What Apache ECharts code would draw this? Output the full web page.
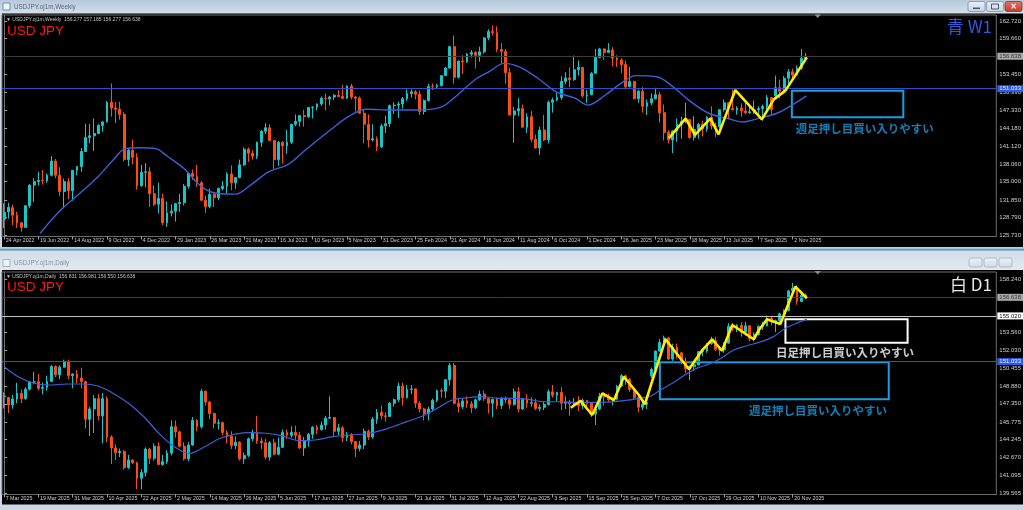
<!DOCTYPE html>
<html>
<head>
<meta charset="utf-8">
<script src="https://cdn.jsdelivr.net/npm/echarts@6.0.0/dist/echarts.min.js"></script>
<style>
html,body{margin:0;padding:0;background:#cbd7e3;overflow:hidden}
#chart{width:1024px;height:510px}
</style>
</head>
<body>
<div id="chart"></div>
<script>
// ---------- DATA ----------
// Weekly USDJPY bars [open, high, low, close], first bar = week of 24 Apr 2022
const weeklyOHLC = [
[128.5,131.25,127.0,129.7],[129.8,131.35,128.6,130.55],[130.5,131.0,127.5,129.2],[129.2,129.8,127.0,127.85],[127.9,128.0,126.36,127.1],[127.1,130.9,127.0,130.85],[130.85,134.55,130.4,134.4],[134.4,135.6,131.5,135.0],
[135.0,136.7,134.3,135.2],[135.2,137.0,134.5,135.15],[135.15,136.4,134.8,136.1],[136.1,139.4,135.9,138.55],[138.55,138.9,135.6,136.1],[136.1,137.5,132.5,133.3],[133.3,135.5,130.4,135.0],[135.0,135.6,132.0,133.4],
[133.4,137.0,131.7,136.95],[136.95,137.7,136.1,137.6],[137.6,140.8,136.7,140.2],[140.2,145.0,140.1,142.6],[142.6,144.95,141.6,142.9],[142.9,145.9,140.3,143.3],[143.3,144.9,143.2,144.7],[144.7,145.4,143.6,145.3],
[145.3,148.9,145.2,148.7],[148.7,151.95,146.2,147.7],[147.7,148.7,145.1,147.5],[147.5,148.8,145.7,146.6],[146.6,147.0,138.5,138.8],[138.8,140.8,137.7,140.4],[140.4,142.25,138.0,139.2],[139.2,139.9,133.6,134.3],
[134.3,137.9,134.1,136.6],[136.6,138.2,134.0,136.7],[136.7,137.5,130.6,132.9],[132.9,134.4,130.8,131.1],[131.1,134.8,129.5,132.1],[132.1,132.9,127.5,127.9],[127.9,131.6,127.2,129.6],[129.6,131.1,129.0,129.9],
[129.9,131.3,128.1,131.2],[131.2,132.9,129.8,131.4],[131.4,134.6,130.9,134.2],[134.2,136.5,133.8,136.4],[136.4,137.1,135.3,135.9],[135.9,137.9,134.1,134.8],[134.8,135.1,131.6,131.8],[131.8,132.6,129.6,130.7],
[130.7,133.8,130.4,132.8],[132.8,133.0,130.6,132.2],[132.2,134.0,131.8,133.8],[133.8,135.1,133.5,134.2],[134.2,136.6,133.0,136.3],[136.3,137.8,133.5,134.8],[134.8,135.8,133.75,135.7],[135.7,138.8,135.6,137.9],
[137.9,140.9,137.7,140.6],[140.6,140.9,138.4,139.9],[139.9,140.4,138.8,139.4],[139.4,141.9,138.9,141.8],[141.8,143.9,141.0,143.7],[143.7,145.1,143.2,144.3],[144.3,144.9,142.0,142.1],[142.1,142.2,137.2,138.8],
[138.8,142.0,137.7,141.8],[141.8,142.0,138.1,141.2],[141.2,143.9,139.8,141.8],[141.8,145.0,141.5,144.9],[144.9,146.6,144.6,145.4],[145.4,146.5,144.5,146.4],[146.4,147.4,144.5,146.2],[146.2,147.9,146.0,147.8],
[147.8,148.0,145.9,147.85],[147.85,148.5,147.3,148.4],[148.4,149.7,148.1,149.4],[149.4,150.2,147.3,149.3],[149.3,149.8,148.2,149.6],[149.6,150.1,149.1,149.9],[149.9,150.8,149.6,149.7],[149.7,151.7,149.2,149.4],
[149.4,151.6,149.3,151.5],[151.5,151.9,149.2,149.6],[149.6,149.8,147.1,149.4],[149.4,149.7,146.7,146.8],[146.8,147.5,141.6,144.9],[144.9,146.6,140.9,142.2],[142.2,144.9,141.9,142.4],[142.4,142.8,140.25,141.0],
[141.0,145.0,140.8,144.6],[144.6,146.4,143.4,145.0],[145.0,148.3,144.4,148.1],[148.1,148.7,146.7,148.2],[148.2,148.8,146.0,148.4],[148.4,149.6,147.6,149.3],[149.3,150.9,148.9,150.2],[150.2,150.9,149.5,150.5],
[150.5,150.8,149.2,150.1],[150.1,150.7,146.5,147.1],[147.1,149.2,146.6,149.0],[149.0,151.9,148.8,151.4],[151.4,151.97,150.8,151.35],[151.35,151.9,151.0,151.6],[151.6,153.4,151.4,153.3],[153.3,154.8,153.2,154.6],
[154.6,158.4,154.5,158.3],[158.3,160.2,151.9,153.0],[153.0,155.9,152.8,155.8],[155.8,156.8,153.6,155.7],[155.7,157.2,155.5,157.0],[157.0,157.7,156.4,157.3],[157.3,157.5,154.5,156.8],[156.8,158.3,155.7,157.4],
[157.4,159.9,157.1,159.8],[159.8,161.3,159.4,160.9],[160.9,161.95,160.2,160.7],[160.7,161.8,157.4,157.8],[157.8,158.9,155.4,157.5],[157.5,157.9,151.9,153.8],[153.8,154.6,146.4,146.5],[146.5,147.9,141.7,147.2],
[147.2,149.4,146.3,147.6],[147.6,148.3,144.3,144.4],[144.4,146.8,143.4,146.2],[146.2,147.2,141.8,142.3],[142.3,143.1,140.7,140.8],[140.8,144.5,139.6,143.9],[143.9,146.5,142.0,142.2],[142.2,149.0,141.6,148.7],
[148.7,149.5,146.9,149.1],[149.1,150.3,148.9,149.5],[149.5,153.2,149.1,152.3],[152.3,153.9,151.8,152.9],[152.9,154.7,151.3,152.6],[152.6,156.75,152.4,154.3],[154.3,155.9,153.3,154.7],[154.7,154.8,149.5,149.8],
[149.8,150.8,148.6,150.0],[150.0,153.9,149.9,153.7],[153.7,157.9,153.6,156.4],[156.4,158.1,156.3,157.9],[157.9,158.0,156.0,157.3],[157.3,158.9,157.2,157.7],[157.7,158.2,154.9,156.3],[156.3,156.8,154.8,156.0],
[156.0,156.3,153.7,155.2],[155.2,155.9,150.9,151.4],[151.4,154.8,151.3,152.3],[152.3,152.4,149.2,149.3],[149.3,150.9,148.6,150.6],[150.6,151.3,146.9,148.0],[148.0,149.2,146.5,148.6],[148.6,150.2,148.2,149.3],
[149.3,151.2,149.2,150.0],[150.0,150.5,145.2,146.9],[146.9,148.3,142.1,143.5],[143.5,143.9,141.6,142.2],[142.2,143.9,139.9,143.7],[143.7,145.9,141.9,144.9],[144.9,146.2,142.4,145.4],[145.4,148.6,145.1,145.7],
[145.7,145.8,142.4,142.6],[142.6,146.3,142.1,144.0],[144.0,145.1,142.4,144.9],[144.9,145.5,142.8,144.1],[144.1,146.3,143.6,146.1],[146.1,148.0,144.0,144.6],[144.6,145.2,142.7,144.5],[144.5,147.5,144.2,147.4],
[147.4,149.2,147.1,148.6],[148.6,148.7,145.9,147.6],[147.6,150.9,147.3,147.4],[147.4,148.0,146.55,147.7],[147.7,148.5,146.2,147.2],[147.2,148.8,146.6,146.9],[146.9,148.2,146.7,147.05],[147.05,149.0,146.7,147.4],
[147.4,148.0,146.3,147.6],[147.6,148.3,145.5,147.95],[147.95,149.95,147.2,149.5],[149.5,149.6,146.6,147.45],[149.8,153.3,149.6,151.2],[151.2,152.6,149.4,150.6],[150.6,153.2,150.2,152.85],[152.85,154.4,151.55,153.95],
[153.95,154.5,152.8,153.4],[153.4,155.05,153.3,154.6],[154.6,157.9,154.3,156.3],[156.277,157.185,156.277,156.638]
];

// Daily USDJPY bars [open, high, low, close], first bar = 7 Mar 2025 (weekdays)
const dailyOHLC = [
[147.98,148.35,146.94,148.04],[147.9,147.95,146.54,147.25],[147.25,148.12,146.93,147.77],[147.77,149.19,147.4,148.27],[148.27,148.6,147.41,147.8],[147.8,148.8,147.7,148.63],[148.63,149.35,148.5,149.25],[149.25,150.15,149.05,149.28],
[149.28,149.95,148.5,148.7],[148.7,149.2,148.17,148.78],[148.78,149.8,148.5,149.3],[149.3,150.74,149.25,150.6],[150.6,150.7,149.68,149.88],[149.88,150.7,149.5,150.55],[150.55,151.2,150.5,151.05],[151.05,151.2,149.5,149.82],
[149.82,150.0,148.7,149.95],[149.95,150.3,149.15,149.6],[149.6,150.5,148.7,149.3],[149.3,149.35,145.2,146.0],[146.0,147.1,144.55,146.9],[146.9,148.1,144.8,147.8],[147.8,148.2,145.9,146.3],[146.3,148.3,143.9,147.8],
[147.8,148.0,144.0,144.45],[144.45,144.6,142.1,143.5],[143.5,143.8,142.45,143.1],[143.1,143.45,142.7,143.2],[143.2,143.3,141.6,141.8],[141.8,142.9,141.65,142.45],[142.45,142.5,142.1,142.2],[142.2,142.3,139.9,140.85],
[140.85,141.65,139.89,141.35],[141.35,143.55,141.0,143.4],[143.4,143.5,142.1,142.6],[142.6,143.9,142.4,143.65],[143.65,144.0,142.0,142.05],[142.05,142.9,141.95,142.3],[142.3,143.3,142.1,143.05],[143.05,145.9,142.85,145.35],
[145.35,145.9,144.4,144.9],[144.9,145.0,143.55,143.65],[143.65,144.0,142.4,142.55],[142.55,144.0,142.35,143.75],[143.75,146.2,143.7,145.9],[145.9,146.0,144.95,145.35],[145.35,148.65,145.2,148.45],[148.45,148.5,147.2,147.5],
[147.5,147.6,146.0,146.5],[146.5,146.6,145.2,145.65],[145.65,146.0,145.1,145.7],[145.7,145.8,144.6,144.85],[144.85,145.05,143.9,144.5],[144.5,144.95,143.4,143.7],[143.7,144.5,143.4,144.0],[144.0,144.1,142.4,142.55],
[142.55,143.1,142.1,142.85],[142.85,144.4,142.7,144.3],[144.3,145.1,144.1,144.8],[144.8,146.3,143.85,144.1],[144.1,144.4,143.4,143.95],[143.95,144.3,142.5,142.7],[142.7,144.1,142.4,143.95],[143.95,144.3,142.85,142.95],
[142.95,144.4,142.85,143.55],[143.55,145.1,143.5,144.85],[144.85,145.1,144.3,144.6],[144.6,145.4,144.4,144.85],[144.85,145.45,144.2,144.6],[144.6,144.9,143.4,143.5],[143.5,144.45,142.8,144.1],[144.1,144.8,143.6,144.7],
[144.7,145.4,144.3,145.3],[145.3,145.5,144.7,145.1],[145.1,145.8,145.0,145.5],[145.5,146.3,145.1,146.1],[146.1,148.0,146.0,146.15],[146.15,146.2,144.5,144.95],[144.95,145.6,144.6,145.25],[145.25,145.4,144.0,144.4],
[144.4,144.9,144.1,144.65],[144.65,144.8,143.8,144.05],[144.05,144.1,142.7,143.45],[143.45,144.1,143.2,143.75],[143.75,145.2,143.4,144.95],[144.95,145.1,144.2,144.45],[144.45,146.2,144.3,146.0],[146.0,146.9,145.6,146.6],
[146.6,147.2,146.0,146.3],[146.3,146.6,145.8,146.25],[146.25,147.5,146.2,147.4],[147.4,147.8,147.1,147.7],[147.7,149.2,147.5,148.9],[148.9,149.2,147.2,147.9],[147.9,149.0,147.8,148.6],[148.6,149.0,148.2,148.65],
[148.65,148.7,147.0,147.4],[147.4,147.6,146.6,146.9],[146.9,147.0,145.9,146.5],[146.5,147.1,145.9,146.9],[146.9,147.8,146.7,147.65],[147.65,148.6,147.5,148.5],[148.5,148.7,147.9,148.45],[148.45,149.5,147.85,149.45],
[149.45,150.9,148.95,150.7],[150.7,150.9,147.3,147.4],[147.4,147.9,146.6,147.1],[147.1,147.8,146.9,147.6],[147.6,148.0,147.0,147.35],[147.35,147.6,146.55,147.0],[147.0,147.8,146.9,147.7],[147.7,148.5,147.6,148.2],
[148.2,148.5,147.6,147.8],[147.8,147.9,146.5,147.4],[147.4,147.8,146.2,147.75],[147.75,147.9,146.9,147.2],[147.2,147.9,146.9,147.85],[147.85,148.0,147.4,147.7],[147.7,147.8,146.9,147.3],[147.3,148.7,147.2,148.4],
[148.4,148.8,146.6,146.9],[146.9,147.8,146.8,147.75],[147.75,148.2,147.0,147.4],[147.4,147.9,147.1,147.45],[147.45,147.8,146.8,146.95],[146.95,147.3,146.7,147.05],[147.05,147.55,146.8,147.3],[147.3,148.6,147.2,148.4],
[148.4,149.0,147.9,148.1],[148.1,148.4,147.6,148.35],[148.35,148.8,146.8,147.4],[147.4,148.0,146.9,147.5],[147.5,147.7,146.3,147.35],[147.35,147.85,147.2,147.45],[147.45,148.0,146.7,147.2],[147.2,147.8,146.9,147.65],
[147.65,147.7,147.05,147.4],[147.4,147.45,146.2,146.45],[146.45,147.05,145.5,146.9],[146.9,148.3,146.8,148.0],[148.0,148.3,147.2,147.95],[147.95,148.25,147.5,147.7],[147.7,147.9,147.2,147.75],[147.75,149.0,147.65,148.9],
[148.9,149.95,148.8,149.8],[149.8,149.9,149.0,149.5],[149.5,149.6,148.4,148.6],[148.6,148.7,147.7,147.9],[147.9,148.1,146.6,147.05],[147.05,147.6,146.8,147.3],[147.3,147.9,146.9,147.45],[149.8,150.5,149.6,150.35],
[150.35,152.0,150.3,151.95],[151.95,153.0,151.9,152.7],[152.7,153.3,152.6,153.1],[153.1,153.2,151.2,151.25],[151.25,152.6,151.1,152.3],[152.3,152.6,151.3,151.8],[151.8,151.9,150.8,151.05],[151.05,151.4,150.0,150.4],
[150.4,150.7,149.4,150.6],[150.6,151.0,150.2,150.75],[150.75,151.95,150.7,151.9],[151.9,152.1,151.5,151.95],[151.95,152.65,151.8,152.6],[152.6,153.2,152.5,152.85],[152.85,153.2,151.95,152.1],[152.1,152.4,151.55,152.05],
[152.05,152.7,151.8,152.65],[152.65,154.4,152.6,154.1],[154.1,154.4,153.7,153.95],[153.95,154.3,153.6,154.2],[154.2,154.45,153.2,153.6],[153.6,154.5,153.3,154.15],[154.15,154.2,152.8,153.05],[153.05,153.6,152.8,153.4],
[153.4,154.2,153.3,154.1],[154.1,154.5,153.8,154.15],[154.15,155.05,154.1,154.8],[154.8,155.0,154.2,154.5],[154.5,154.7,153.6,154.6],[154.6,155.3,154.3,155.2],[155.2,155.6,154.9,155.5],[155.5,157.3,155.4,157.2],
[157.2,157.9,157.1,157.45],[157.45,157.7,156.0,156.3],[156.277,157.185,156.277,156.83],[156.831,156.981,156.55,156.638]
];

// Moving average lines: [bar position, price]
const weeklyMA = [[8.4,126.1],[13.2,130.1],[17.7,133.0],[21.9,135.85],[25.4,138.7],[28.3,140.7],[31.9,140.85],[35.4,140.7],[38.2,139.3],[41.9,137.3],[46.1,134.1],[49.6,133.0],[54.0,132.85],[57.5,134.4],[61.7,136.7],[66.1,137.9],[70.3,140.45],[76.1,143.9],[80.3,146.2],[84.5,147.5],[90.3,147.35],[95.9,147.35],[101.8,147.8],[105.3,149.65],[109.7,152.5],[113.2,154.0],[116.7,155.4],[120.2,154.8],[124.6,152.8],[128.8,150.5],[133.2,149.4],[136.2,148.2],[140.2,149.9],[144.0,152.0],[147.4,153.3],[152.3,153.1],[156.0,151.4],[160.2,148.8],[164.4,146.8],[168.9,145.9],[172.3,145.3],[176.5,146.0],[180.3,146.8],[183.8,148.2],[187.2,149.8]];
const dailyMA = [[0,150.59],[3.3,149.71],[6.9,149.14],[10.4,148.99],[14.7,149.08],[18.3,149.08],[21.9,148.9],[25.4,148.27],[29.0,147.39],[32.6,146.22],[36.1,144.78],[39.7,143.61],[43.2,143.03],[46.8,143.61],[50.4,144.34],[54.0,144.71],[57.5,144.83],[61.1,144.78],[64.7,144.57],[68.9,144.13],[72.5,144.19],[76.8,144.48],[81.1,144.63],[85.3,144.78],[89.6,145.21],[93.9,145.79],[98.2,146.37],[101.7,147.1],[104.6,147.68],[108.2,147.88],[111.7,147.97],[115.3,147.83],[118.9,147.83],[122.4,147.74],[126.0,147.53],[129.5,147.53],[133.1,147.48],[137.4,147.48],[141.7,147.51],[144.5,147.62],[148.1,147.83],[150.9,148.03],[153.1,148.55],[155.9,149.14],[158.8,149.86],[161.6,150.45],[164.5,150.82],[167.3,151.32],[170.2,152.04],[173.1,152.39],[176.6,152.77],[179.5,153.21],[182.3,153.94],[185.2,154.43],[187.3,154.72]];

// Hand-drawn yellow zig-zags
const weeklyZigzag = [[155.1,142.5],[159.0,145.9],[161.2,143.05],[164.8,145.9],[166.7,143.15],[170.6,150.8],[176.8,145.75],[179.6,149.2],[182.3,150.7],[187.3,156.45]];
const dailyZigzag = [[132.2,147.01],[134.5,147.62],[137.2,146.37],[139.6,148.27],[142.3,147.68],[144.6,149.71],[148.1,148.12],[149.5,147.31],[154.3,152.98],[159.8,150.36],[162.9,152.04],[165.2,152.98],[167.5,151.98],[169.9,154.23],[174.9,152.98],[176.1,153.79],[178.0,154.72],[181.1,154.31],[184.6,157.57],[187.3,156.56]];

// Zones: [[x1, priceTop], [x2, priceBottom]]
const weeklyZone = [[183.8,150.69],[209.8,146.1]];
const dailyZoneDay = [[182.3,154.72],[210.8,152.68]];
const dailyZoneWeek = [[153.0,150.97],[206.4,147.74]];
const NOTE_W = '週足押し目買い入りやすい';
const NOTE_D = '日足押し目買い入りやすい';
const weeklyNotePos = [184.6,144.08];
const dailyNoteDayPos = [180.0,151.81];
const dailyNoteWeekPos = [173.7,146.72];

// Horizontal price levels
const weeklyLevels = [156.638, 151.033];
const dailyLevels = [156.638, 155.020, 151.033];

// Tick labels
const weeklyYTicks = [162.720,159.660,153.450,150.390,147.330,144.180,141.120,138.060,135.000,131.850,128.790,125.730];
const dailyYTicks = [158.240,153.560,152.030,150.455,148.880,147.350,145.775,144.245,142.670,141.095,139.565];
const weeklyXTicks = ['24 Apr 2022','19 Jun 2022','14 Aug 2022','9 Oct 2022','4 Dec 2022','29 Jan 2023','26 Mar 2023','21 May 2023','16 Jul 2023','10 Sep 2023','5 Nov 2023','31 Dec 2023','25 Feb 2024','21 Apr 2024','16 Jun 2024','11 Aug 2024','6 Oct 2024','1 Dec 2024','26 Jan 2025','23 Mar 2025','18 May 2025','13 Jul 2025','7 Sep 2025','2 Nov 2025'];
const dailyXTicks = ['7 Mar 2025','19 Mar 2025','31 Mar 2025','10 Apr 2025','22 Apr 2025','2 May 2025','14 May 2025','26 May 2025','5 Jun 2025','17 Jun 2025','27 Jun 2025','9 Jul 2025','21 Jul 2025','31 Jul 2025','12 Aug 2025','22 Aug 2025','3 Sep 2025','15 Sep 2025','25 Sep 2025','7 Oct 2025','17 Oct 2025','29 Oct 2025','10 Nov 2025','20 Nov 2025'];

// ---------- BUILD ----------
const N = 232;               // visible bar slots (incl. right shift)
const DAY = 86400000;
const MON = ['Jan','Feb','Mar','Apr','May','Jun','Jul','Aug','Sep','Oct','Nov','Dec'];
const fmt = t => { const d = new Date(t); return d.getUTCDate() + ' ' + MON[d.getUTCMonth()] + ' ' + d.getUTCFullYear(); };

const wCats = [];
for (let i = 0; i < N; i++) wCats.push(i < weeklyOHLC.length ? fmt(Date.UTC(2022,3,24) + i*7*DAY) : 'pad' + i);
const dCats = [];
for (let t = Date.UTC(2025,2,7); dCats.length < dailyOHLC.length; t += DAY) {
  const w = new Date(t).getUTCDay();
  if (w > 0 && w < 6) dCats.push(fmt(t));
}
while (dCats.length < N) dCats.push('pad' + dCats.length);

const UP = '#16c6c8', DOWN = '#ff4b14', MA = '#3d5fd8', ZIG = '#ffee00';
const NOTE_BLUE = '#1b9de2', NOTE_WHITE = '#ffffff';
const AXIS_TXT = '#cfcfcf', FRAME = '#6c6c6c';
const LEVEL_STYLE = {
  '156.638': {line:'#3c3c3c', bg:'#a8a8a8', fg:'#333333'},
  '155.020': {line:'#c4c4c4', bg:'#ffffff', fg:'#111111'},
  '151.033': {line:'#3050c4', bg:'#2d5ce6', fg:'#eef2ff'}
};
function levelLines(levels) {
  return levels.map(v => {
    const s = LEVEL_STYLE[v.toFixed(3)];
    return {yAxis: v, lineStyle: {color: s.line, width: 1, type: 'solid'},
      label: {show: true, position: 'end', distance: 1, formatter: v.toFixed(3), backgroundColor: s.bg, color: s.fg,
        fontSize: 6, fontFamily: 'Liberation Sans', padding: [1,2,0,2]}};
  });
}
const toEC = rows => rows.map(r => [r[0], r[3], r[2], r[1]]);

function catAxis(gi, cats, ticks) {
  const show = (i, v) => ticks.indexOf(v) >= 0;
  return {type:'category', gridIndex:gi, data:cats, boundaryGap:true,
    axisLine:{show:true, lineStyle:{color:FRAME, width:1}},
    axisTick:{show:true, interval:show, alignWithLabel:true, length:3, lineStyle:{color:'#a0a0a0'}},
    axisLabel:{show:true, interval:show, align:'left', margin:2, color:AXIS_TXT, fontSize:5.3, fontFamily:'Liberation Sans', padding:[0,0,0,1.5]},
    splitLine:{show:false}};
}
const valX = gi => ({type:'value', gridIndex:gi, min:-0.5, max:N-0.5, show:false});
function priceAxis(gi, min, max, ticks) {
  return {type:'value', gridIndex:gi, position:'right', min, max,
    axisLine:{show:true, lineStyle:{color:FRAME}},
    axisTick:{show:true, customValues:ticks, length:3, lineStyle:{color:'#a0a0a0'}},
    axisLabel:{show:true, customValues:ticks, formatter:v => v.toFixed(3), margin:3, color:AXIS_TXT, fontSize:6, fontFamily:'Liberation Sans'},
    splitLine:{show:false}};
}
function candles(xi, yi, rows, levels) {
  return {type:'candlestick', xAxisIndex:xi, yAxisIndex:yi, data:toEC(rows), barWidth:2.4, silent:true,
    itemStyle:{color:UP, color0:DOWN, borderColor:UP, borderColor0:DOWN, borderWidth:1},
    markLine:{symbol:['none','none'], silent:true, animation:false, data:levelLines(levels)}, z:3};
}
function maLine(xi, yi, pts, w) {
  return {type:'line', xAxisIndex:xi, yAxisIndex:yi, data:pts, smooth:0.35, showSymbol:false, silent:true,
    lineStyle:{color:MA, width:w}, z:4};
}
function zigzag(xi, yi, pts, zones) {
  return {type:'line', xAxisIndex:xi, yAxisIndex:yi, data:pts, showSymbol:false, silent:true,
    lineStyle:{color:ZIG, width:2.6}, z:6,
    markArea:{silent:true, animation:false, data: zones.map(z => [
      {coord:z.box[0], itemStyle:{color:'rgba(0,0,0,0)', borderColor:z.color, borderWidth:2}},
      {coord:z.box[1]}])}};
}
function notes(xi, yi, list) {
  return {type:'scatter', xAxisIndex:xi, yAxisIndex:yi, symbolSize:1, silent:true, z:7,
    itemStyle:{color:'rgba(0,0,0,0)'},
    data:list.map(n => ({value:n.pos, label:{show:true, position:'right', distance:0, formatter:n.text,
      color:n.color, fontSize:11.5, fontWeight:'bold', fontFamily:'"Noto Sans CJK JP"'}}))};
}

// y ranges matched to the screenshot's price scale
const wMax = 163.756, wMin = 125.53;
const dMax = 158.851, dMin = 139.436;

// ---------- window chrome (graphic) ----------
const G = [];
const LG = (a, b) => new echarts.graphic.LinearGradient(0,0,0,1,[{offset:0,color:a},{offset:1,color:b}]);
function rect(x, y, w, h, fill, extra) { G.push(Object.assign({type:'rect', shape:{x, y, width:w, height:h}, style:{fill}, z:-10, silent:true}, extra || {})); }
function text(x, y, t, font, fill, align) {
  G.push({type:'text', x, y, z:50, silent:true,
    style:{text:t, font, fill, align:align||'left', verticalAlign:'middle', textAlign:align||'left', textVerticalAlign:'middle'}});
}
rect(0, 0, 1024, 13.5, LG('#b6c8db', '#d3e0ec'));
rect(2, 13.5, 1021, 233.5, '#000000');
rect(0, 247, 1024, 4, '#c3cdd7');
rect(0, 248.8, 1024, 1.6, '#4ea7c3');
rect(0, 251, 1024, 19, LG('#d3dde8', '#e2e9f0'));
rect(2, 270, 1021, 234.5, '#000000');
// title icons
rect(3, 3, 7, 7, '#eef3f8', {style:{fill:'#eef3f8', stroke:'#6b8db3', lineWidth:1}});
rect(3, 259.5, 7, 7, '#eef3f8', {style:{fill:'#eef3f8', stroke:'#9fb3c8', lineWidth:1}});
text(14, 7, 'USDJPY.oj1m,Weekly', '6.3px "Liberation Sans"', '#5a6878');
text(14, 263.5, 'USDJPY.oj1m,Daily', '6.3px "Liberation Sans"', '#8694a4');
// window buttons (top active, bottom inactive)
[[968,1.5,'#eaf0f6','#c6d3e1','#7e90a6'],[986.5,1.5,'#eaf0f6','#c6d3e1','#7e90a6'],[1005,1.5,'#e4776a','#bf3a2c','#8a3028']].forEach(b => {
  G.push({type:'rect', shape:{x:b[0], y:b[1], width:17, height:10, r:2}, style:{fill:LG(b[2], b[3]), stroke:b[4], lineWidth:0.8}, z:-5, silent:true});
});
rect(973, 7.5, 7, 1.6, '#4c5a6a', {z:-4});
G.push({type:'rect', shape:{x:991.5, y:4, width:7, height:5}, style:{fill:'none', stroke:'#4c5a6a', lineWidth:1}, z:-4, silent:true});
text(1013.5, 6.6, '×', 'bold 8px "DejaVu Sans"', '#ffffff', 'center');
[969, 984, 999].forEach(x => {
  G.push({type:'rect', shape:{x, y:258, width:13, height:9, r:2}, style:{fill:LG('#eef2f6', '#d3dbe4'), stroke:'#a3afbd', lineWidth:0.8}, z:-5, silent:true});
});
// chart-shift markers
G.push({type:'polygon', shape:{points:[[814.5,14.5],[821,14.5],[817.7,18]]}, style:{fill:'#8c8c8c'}, z:40, silent:true});
G.push({type:'polygon', shape:{points:[[814.5,271],[821,271],[817.7,274.5]]}, style:{fill:'#8c8c8c'}, z:40, silent:true});
// in-chart headers
const wLast = weeklyOHLC[weeklyOHLC.length-1], dLast = dailyOHLC[dailyOHLC.length-1];
text(6, 20, '▼ USDJPY.oj1m,Weekly  ' + wLast.map(v => v.toFixed(3)).join(' '), '5px "Liberation Sans"', '#c4c4c4');
text(6, 276.5, '▼ USDJPY.oj1m,Daily  ' + dLast.map(v => v.toFixed(3)).join(' '), '5px "Liberation Sans"', '#c4c4c4');
text(7, 31.5, 'USD JPY', '13.5px "Liberation Sans"', '#ff1616');
text(7, 287.5, 'USD JPY', '13.5px "Liberation Sans"', '#ff1616');
text(992, 26.5, '青 W1', '17px "Noto Sans CJK JP"', '#2f5ad8', 'right');
text(992, 285, '白 D1', '17px "Noto Sans CJK JP"', '#e6e6e6', 'right');

const option = {
  backgroundColor: '#cbd7e3',
  animation: false,
  graphic: G,
  grid: [
    {left:2, top:15, width:996, height:221.5, show:true, borderColor:FRAME, borderWidth:1, backgroundColor:'rgba(0,0,0,0)'},
    {left:2, top:272, width:996, height:222.5, show:true, borderColor:FRAME, borderWidth:1, backgroundColor:'rgba(0,0,0,0)'}
  ],
  xAxis: [catAxis(0, wCats, weeklyXTicks), valX(0), catAxis(1, dCats, dailyXTicks), valX(1)],
  yAxis: [priceAxis(0, wMin, wMax, weeklyYTicks), priceAxis(1, dMin, dMax, dailyYTicks)],
  series: [
    candles(0, 0, weeklyOHLC, weeklyLevels),
    maLine(1, 0, weeklyMA, 1.4),
    zigzag(1, 0, weeklyZigzag, [{box:weeklyZone, color:NOTE_BLUE}]),
    notes(1, 0, [{pos:weeklyNotePos, text:NOTE_W, color:NOTE_BLUE}]),
    candles(2, 1, dailyOHLC, dailyLevels),
    maLine(3, 1, dailyMA, 1.2),
    zigzag(3, 1, dailyZigzag, [{box:dailyZoneDay, color:NOTE_WHITE}, {box:dailyZoneWeek, color:NOTE_BLUE}]),
    notes(3, 1, [{pos:dailyNoteDayPos, text:NOTE_D, color:NOTE_WHITE}, {pos:dailyNoteWeekPos, text:NOTE_W, color:NOTE_BLUE}])
  ]
};
const chart = echarts.init(document.getElementById('chart'), null, {renderer:'canvas'});
chart.setOption(option);
</script>
</body>
</html>
